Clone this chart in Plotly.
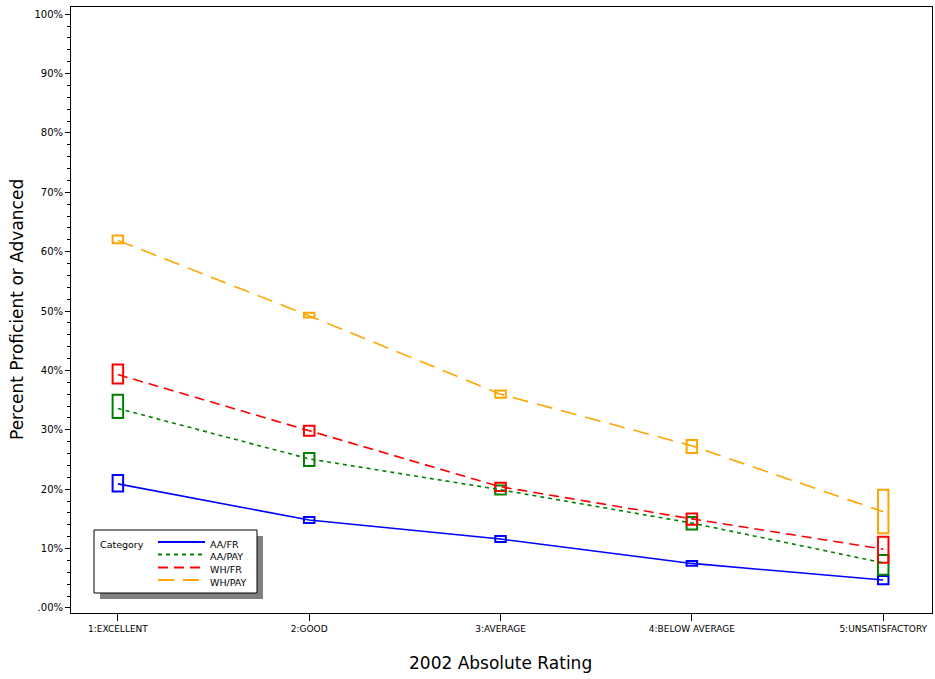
import plotly.graph_objects as go

# 2002 absolute rating categories
categories = ["1:EXCELLENT", "2:GOOD", "3:AVERAGE", "4:BELOW AVERAGE", "5:UNSATISFACTORY"]

# Percent proficient or advanced: mean, low and high per group
aa_fr_mean = [20.9, 14.8, 11.6, 7.5, 4.7]
aa_fr_low = [19.6, 14.3, 11.1, 7.1, 4.0]
aa_fr_high = [22.4, 15.3, 12.1, 7.9, 5.4]

aa_pay_mean = [33.6, 25.1, 19.9, 14.3, 7.6]
aa_pay_low = [32.0, 23.9, 19.1, 13.2, 5.6]
aa_pay_high = [35.9, 26.1, 20.6, 15.3, 8.9]

wh_fr_mean = [39.3, 29.8, 20.4, 15.0, 9.9]
wh_fr_low = [37.8, 29.0, 19.7, 14.0, 7.6]
wh_fr_high = [41.0, 30.7, 21.1, 15.9, 12.0]

wh_pay_mean = [61.9, 49.2, 36.0, 27.3, 16.2]
wh_pay_low = [61.4, 48.9, 35.4, 26.1, 12.6]
wh_pay_high = [62.7, 49.7, 36.6, 28.3, 19.9]

y_tick_vals = [0, 10, 20, 30, 40, 50, 60, 70, 80, 90, 100]
y_tick_text = [".00%", "10%", "20%", "30%", "40%", "50%", "60%", "70%", "80%", "90%", "100%"]

series = [
    ("AA/FR", aa_fr_mean, aa_fr_low, aa_fr_high, "#0000FF", "solid"),
    ("AA/PAY", aa_pay_mean, aa_pay_low, aa_pay_high, "#008000", "4px,4px"),
    ("WH/FR", wh_fr_mean, wh_fr_low, wh_fr_high, "#FF0000", "10px,6px"),
    ("WH/PAY", wh_pay_mean, wh_pay_low, wh_pay_high, "#FFA500", "16px,9px"),
]

W, H = 935, 679
ML, MR, MT, MB = 71, 3, 7, 66
PW, PH = W - ML - MR, H - MT - MB


def px_x(px):
    return (px - ML) / PW


def px_y(py):
    return (H - MB - py) / PH


FONT = "DejaVu Sans"

fig = go.Figure()

for name, mean, low, high, color, dash in series:
    fig.add_trace(go.Scatter(
        x=categories, y=mean, mode="lines", name=name,
        line=dict(color=color, width=1.6, dash=dash),
        showlegend=False,
    ))
    fig.add_trace(go.Bar(
        x=categories, y=[h - l for h, l in zip(high, low)], base=low,
        width=0.055, name=name,
        marker=dict(color="rgba(0,0,0,0)", line=dict(color=color, width=2)),
        showlegend=False, hoverinfo="skip",
    ))

# Legend panel with drop shadow
shapes = [
    dict(type="rect", xref="paper", yref="paper",
         x0=px_x(100), x1=px_x(263), y0=px_y(599), y1=px_y(536),
         fillcolor="#808080", line=dict(width=0), layer="above"),
    dict(type="rect", xref="paper", yref="paper",
         x0=px_x(94), x1=px_x(257), y0=px_y(593), y1=px_y(530),
         fillcolor="white", line=dict(color="black", width=1), layer="above"),
]
annotations = [
    dict(text="Category", xref="paper", yref="paper", x=px_x(98), y=px_y(544),
         xanchor="left", yanchor="middle", showarrow=False,
         font=dict(family=FONT, size=9.5, color="black")),
]
row_y = [542, 554.5, 567.5, 580]
for (name, _, _, _, color, dash), ry in zip(series, row_y):
    shapes.append(dict(type="line", xref="paper", yref="paper",
                       x0=px_x(158), x1=px_x(205), y0=px_y(ry), y1=px_y(ry),
                       line=dict(color=color, width=2.2, dash=dash), layer="above"))
    annotations.append(dict(text=name, xref="paper", yref="paper",
                            x=px_x(208), y=px_y(ry + 2), xanchor="left", yanchor="middle",
                            showarrow=False,
                            font=dict(family=FONT, size=9.5, color="black")))

# Axis titles
annotations.append(dict(text="2002 Absolute Rating", xref="paper", yref="paper",
                        x=px_x(500), y=px_y(663), xanchor="center", yanchor="middle",
                        showarrow=False, font=dict(family=FONT, size=17, color="black")))
annotations.append(dict(text="Percent Proficient or Advanced", xref="paper", yref="paper",
                        x=px_x(17), y=px_y(310), xanchor="center", yanchor="middle",
                        textangle=-90, showarrow=False,
                        font=dict(family=FONT, size=17, color="black")))

fig.update_layout(
    width=W, height=H,
    margin=dict(l=ML, r=MR, t=MT, b=MB, autoexpand=False),
    paper_bgcolor="white", plot_bgcolor="white",
    barmode="overlay",
    showlegend=False,
    shapes=shapes,
    annotations=annotations,
    font=dict(family=FONT, color="black"),
)
fig.update_xaxes(
    type="category", range=[-0.245, 4.255],
    showgrid=False, zeroline=False,
    showline=True, linecolor="black", linewidth=1, mirror=True,
    ticks="outside", ticklen=7, tickcolor="black",
    tickfont=dict(family=FONT, size=9, color="black"),
)
fig.update_yaxes(
    range=[-0.85, 101.2],
    tickmode="array", tickvals=y_tick_vals, ticktext=y_tick_text,
    showgrid=False, zeroline=False,
    showline=True, linecolor="black", linewidth=1, mirror=True,
    ticks="outside", ticklen=5, tickcolor="black",
    tickfont=dict(family=FONT, size=10, color="black"),
    minor=dict(tickmode="linear", tick0=0, dtick=2, ticks="outside", ticklen=3,
               tickcolor="black", showgrid=False),
)

fig.write_html("out.html")
